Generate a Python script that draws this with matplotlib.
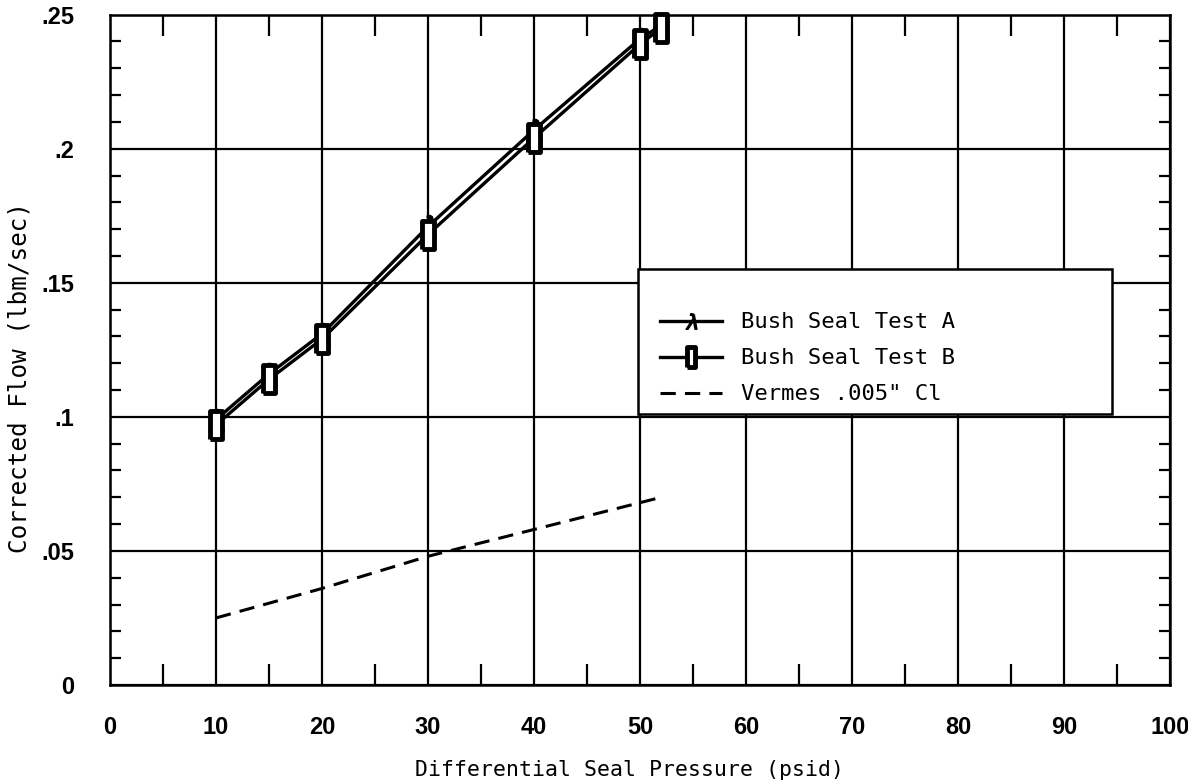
import matplotlib.pyplot as plt
from matplotlib.patches import Rectangle
from matplotlib.ticker import MultipleLocator, FixedFormatter, FixedLocator

# data
pressure_a = [10, 15, 20, 30, 40, 50, 52]
flow_a = [0.099, 0.116, 0.131, 0.171, 0.207, 0.241, 0.246]
pressure_b = [10, 15, 20, 30, 40, 50, 52]
flow_b = [0.097, 0.114, 0.129, 0.168, 0.204, 0.239, 0.245]
pressure_v = [10, 20, 30, 40, 50, 52]
flow_v = [0.025, 0.036, 0.048, 0.058, 0.068, 0.070]

x_ticks = [0, 10, 20, 30, 40, 50, 60, 70, 80, 90, 100]
x_labels = ['0', '10', '20', '30', '40', '50', '60', '70', '80', '90', '100']
y_ticks = [0, 0.05, 0.1, 0.15, 0.2, 0.25]
y_labels = ['0', '.05', '.1', '.15', '.2', '.25']

mono = ['DejaVu Sans Mono']
tickfont = ['Liberation Sans', 'DejaVu Sans']

fig = plt.figure(figsize=(11.88, 7.84), dpi=100)
ax = fig.add_axes([0.0926, 0.1263, 0.8923, 0.855])

# tall box marker for test B
box = [(-0.45, -1), (0.45, -1), (0.45, 1), (-0.45, 1), (-0.45, -1)]

ax.plot(pressure_a, flow_a, color='black', lw=2.4, marker='$\\lambda$',
        ms=16, mfc='black', mec='black', label='Bush Seal Test A', zorder=4)
ax.plot(pressure_b, flow_b, color='black', lw=2.4, marker=box,
        ms=20, mfc='white', mec='black', mew=3.5, label='Bush Seal Test B',
        zorder=5, clip_on=False)
ax.plot(pressure_v, flow_v, color='black', lw=2.2, ls=(0, (5, 3)),
        label='Vermes .005" Cl', zorder=4)

ax.set_xlim(0, 100)
ax.set_ylim(0, 0.25)
ax.xaxis.set_major_locator(FixedLocator(x_ticks))
ax.xaxis.set_major_formatter(FixedFormatter(x_labels))
ax.yaxis.set_major_locator(FixedLocator(y_ticks))
ax.yaxis.set_major_formatter(FixedFormatter(y_labels))
ax.xaxis.set_minor_locator(MultipleLocator(5))
ax.yaxis.set_minor_locator(MultipleLocator(0.01))

ax.grid(True, which='major', color='black', lw=1.6)
ax.set_axisbelow(True)
ax.tick_params(which='both', direction='in', top=True, right=True, color='black')
ax.tick_params(which='major', length=0, width=1.6)
ax.tick_params(which='minor', axis='x', length=15, width=1.6)
ax.tick_params(which='minor', axis='y', length=8, width=1.6)
ax.tick_params(axis='x', pad=22)
ax.tick_params(axis='y', pad=26)
for lab in ax.get_xticklabels() + ax.get_yticklabels():
    lab.set_family(tickfont)
    lab.set_fontsize(17)
    lab.set_fontweight('bold')
for sp in ax.spines.values():
    sp.set_linewidth(1.8)

ax.set_xlabel('Differential Seal Pressure (psid)', family=mono, fontsize=15.5)
ax.xaxis.set_label_coords(0.49, -0.112)
ax.set_ylabel('Corrected Flow (lbm/sec)', family=mono, fontsize=17.5)
ax.yaxis.set_label_coords(-0.074, 0.458)

# legend box drawn as a white rectangle, legend itself frameless
ax.add_patch(Rectangle((49.8, 0.101), 44.7, 0.054, facecolor='white',
                       edgecolor='black', lw=1.8, zorder=3))
leg = ax.legend(loc='upper left', bbox_to_anchor=(0.519, 0.556),
                frameon=False, prop={'family': mono, 'size': 16},
                handlelength=2.8, borderpad=0, borderaxespad=0,
                labelspacing=0.72, handletextpad=0.85, markerscale=0.7)
leg.set_zorder(10)

fig.savefig('out.png', dpi=100)
